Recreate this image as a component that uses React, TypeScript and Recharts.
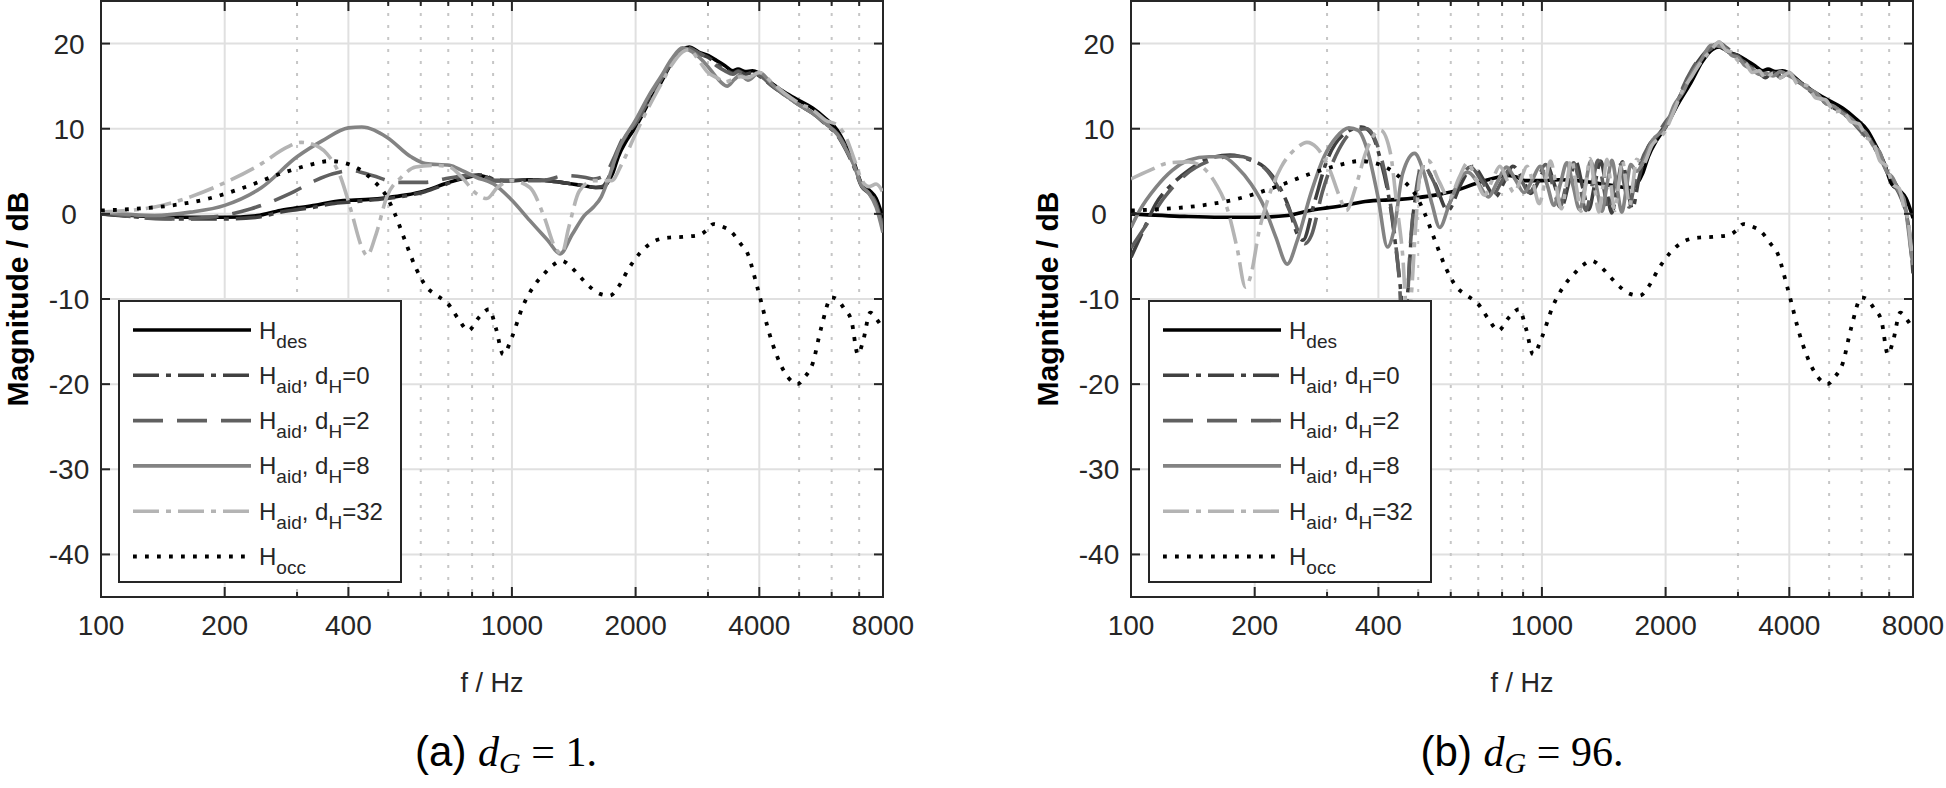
import React from "react";
import { LineChart, Line, XAxis, YAxis, CartesianGrid, ReferenceArea } from "recharts";

type Pt = [number, number];

// axes
const majorFreqs = [100, 200, 400, 1000, 2000, 4000, 8000];
const minorFreqs = [300, 500, 600, 700, 800, 900, 3000, 5000, 6000, 7000];
const gridFreqs = [200, 400, 1000, 2000, 4000];
const dbTicks = [-40, -30, -20, -10, 0, 10, 20];

// shared curves (same in both panels)
const hDes: Pt[] = [
  [100, 0], [135, -0.3], [165, -0.4], [200, -0.4], [240, -0.2], [273, 0.4], [300, 0.7], [332, 1.0],
  [365, 1.4], [406, 1.6], [450, 1.7], [496, 1.9], [550, 2.2], [614, 2.7], [684, 3.5], [767, 4.2],
  [830, 4.5], [870, 4.3], [910, 3.9], [1000, 3.9], [1100, 4.0], [1222, 3.9], [1320, 3.7], [1403, 3.5],
  [1500, 3.3], [1600, 3.1], [1660, 3.1], [1700, 3.5], [1760, 4.8], [1815, 6.7], [1900, 8.6], [2000, 10.2],
  [2150, 13.0], [2310, 15.5], [2450, 17.8], [2600, 19.3], [2700, 19.6], [2850, 19.0], [3000, 18.6],
  [3150, 18.0], [3300, 17.4], [3450, 16.8], [3550, 17.0], [3700, 16.7], [3850, 16.8], [4000, 16.5],
  [4300, 15.3], [4600, 14.3], [5000, 13.3], [5400, 12.4], [5800, 11.2], [6200, 9.8], [6500, 8.0],
  [6800, 6.0], [7100, 3.5], [7400, 2.8], [7700, 1.8], [8000, -0.5],
];

const hOcc: Pt[] = [
  [100, 0.4], [122, 0.6], [149, 1.0], [183, 1.8], [223, 3.1], [273, 4.7], [319, 5.7], [360, 6.2],
  [390, 6.0], [423, 5.3], [460, 3.9], [496, 2.0], [517, 0.2], [549, -3.1], [583, -6.3], [620, -8.6],
  [658, -9.6], [700, -10.6], [742, -12.4], [784, -13.7], [830, -12.2], [880, -11.2], [915, -13.5],
  [952, -16.5], [1000, -14.5], [1060, -11.0], [1130, -8.5], [1200, -7.0], [1260, -6.0], [1320, -5.5],
  [1390, -6.2], [1460, -7.3], [1550, -8.6], [1640, -9.4], [1730, -9.6], [1820, -8.5], [1920, -6.5],
  [2050, -4.6], [2220, -3.2], [2400, -2.8], [2600, -2.7], [2850, -2.5], [3000, -1.8], [3090, -1.2],
  [3250, -1.5], [3400, -2.0], [3600, -3.5], [3750, -4.7], [3900, -7.5], [4050, -10.5], [4200, -13.5],
  [4400, -16.5], [4700, -19.2], [4950, -20.0], [5150, -19.2], [5400, -17.5], [5650, -13.5],
  [6000, -9.8], [6200, -10.1], [6450, -11.2], [6700, -12.5], [6950, -16.5], [7150, -15.0],
  [7450, -11.6], [7700, -12.3], [8000, -13.5],
];

// panel (a), d_G = 1
const aidG1d0: Pt[] = [
  [100, 0], [135, -0.5], [165, -0.6], [200, -0.6], [240, -0.4], [273, 0.2], [300, 0.5], [332, 0.8],
  [365, 1.2], [406, 1.4], [450, 1.6], [496, 1.8], [550, 2.1], [614, 2.6], [684, 3.4], [767, 4.3],
  [830, 4.6], [870, 4.4], [910, 4.0], [1000, 3.9], [1100, 4.0], [1222, 3.9], [1320, 3.7], [1403, 3.5],
  [1500, 3.3], [1600, 3.1], [1660, 3.2], [1700, 3.8], [1760, 5.5], [1815, 7.5], [1900, 9.2],
  [2000, 10.8], [2150, 13.5], [2310, 16.0], [2450, 18.0], [2600, 19.3], [2700, 19.5], [2850, 18.8],
  [3000, 18.4], [3150, 17.6], [3300, 17.0], [3450, 16.5], [3550, 16.8], [3700, 16.4], [3850, 16.6],
  [4000, 16.2], [4300, 15.0], [4600, 14.0], [5000, 12.8], [5400, 11.8], [5800, 10.5], [6200, 9.2],
  [6500, 7.5], [6800, 5.5], [7100, 3.2], [7400, 2.4], [7700, 1.0], [8000, -1.5],
];

const aidG1d2: Pt[] = [
  [100, 0.2], [143, -0.6], [183, -0.4], [232, 0.6], [289, 2.4], [332, 3.9], [367, 4.7], [406, 5.1],
  [457, 4.5], [526, 3.7], [614, 3.7], [684, 4.1], [767, 4.5], [830, 4.7], [903, 3.9], [1000, 3.9],
  [1177, 3.9], [1352, 4.5], [1500, 4.3], [1580, 4.1], [1650, 4.3], [1712, 5.1], [1780, 6.8],
  [1850, 8.6], [2000, 10.6], [2150, 13.3], [2310, 15.8], [2450, 17.8], [2600, 19.2], [2700, 19.4],
  [2850, 18.9], [3000, 18.3], [3150, 17.4], [3300, 16.8], [3450, 16.4], [3550, 16.7], [3700, 16.3],
  [3850, 16.6], [4000, 16.3], [4300, 15.0], [4600, 14.0], [5000, 12.8], [5400, 11.8], [5800, 10.6],
  [6200, 9.4], [6500, 7.8], [6800, 5.8], [7100, 3.4], [7400, 2.5], [7700, 1.2], [8000, -1.8],
];

const aidG1d8: Pt[] = [
  [100, 0.2], [135, -0.2], [165, 0.2], [200, 1.0], [246, 3.1], [300, 6.7], [346, 8.6], [400, 10.1],
  [431, 10.2], [496, 9.0], [568, 6.7], [617, 5.9], [705, 5.7], [755, 5.1], [818, 4.3], [903, 3.5],
  [1000, 1.6], [1106, -0.8], [1222, -3.1], [1310, -4.7], [1403, -2.4], [1500, -0.2], [1580, 0.8],
  [1650, 2.0], [1712, 3.9], [1815, 7.5], [2000, 11.0], [2150, 13.8], [2310, 16.2], [2450, 18.2],
  [2600, 19.5], [2750, 19.0], [3000, 17.3], [3150, 16.0], [3340, 15.0], [3480, 15.8], [3600, 16.3],
  [3750, 15.7], [4000, 16.6], [4300, 15.2], [4600, 14.0], [5000, 12.8], [5400, 11.8], [5800, 10.6],
  [6200, 9.3], [6500, 7.6], [6800, 5.7], [7100, 3.3], [7400, 2.4], [7700, 0.8], [8000, -2.2],
];

const aidG1d32: Pt[] = [
  [100, 0.2], [135, 0.8], [165, 2.0], [201, 3.7], [246, 5.9], [283, 7.8], [307, 8.4], [326, 8.2],
  [354, 7.1], [383, 4.3], [406, 0.4], [431, -3.9], [444, -4.9], [467, -2.4], [496, 2.0], [538, 4.3],
  [583, 5.5], [643, 5.7], [705, 5.5], [755, 4.3], [818, 2.4], [869, 1.8], [922, 3.1], [1000, 3.9],
  [1106, 3.1], [1199, -0.4], [1272, -3.9], [1322, -4.7], [1375, -1.6], [1460, 2.7], [1580, 3.9],
  [1747, 3.9], [1853, 5.9], [2000, 9.4], [2150, 12.5], [2310, 15.3], [2450, 17.5], [2600, 19.0],
  [2700, 19.3], [2850, 18.0], [3000, 16.6], [3150, 16.0], [3300, 15.5], [3450, 15.8], [3600, 16.1],
  [3750, 16.0], [4000, 16.6], [4300, 15.4], [4600, 14.2], [5000, 13.0], [5400, 12.2], [5800, 11.0],
  [6200, 10.4], [6500, 9.0], [6800, 6.5], [7100, 4.0], [7400, 3.2], [7700, 3.5], [8000, 2.5],
];

// panel (b), d_G = 96
const aidG96d0: Pt[] = [
  [100, -5.1], [107, -2.0], [115, 1.2], [126, 3.5], [138, 5.1], [155, 6.5], [174, 6.9], [196, 6.3],
  [211, 5.5], [225, 3.9], [242, 0.8], [254, -2.4], [262, -3.1], [279, 1.2], [300, 6.3], [327, 9.2],
  [364, 10.2], [385, 9.4], [405, 6.3], [428, 0.8], [443, -4.7], [454, -9.4], [462, -14], [472, -9],
  [482, -2], [500, 3.5], [515, 5.5], [550, 3.5], [590, 0.4], [635, 3.5], [680, 5.6], [725, 3.8],
  [770, 2.0], [810, 3.8], [850, 5.6], [895, 4.2], [940, 2.4], [985, 4.0], [1030, 5.7], [1075, 3.3],
  [1120, 1.0], [1165, 3.8], [1210, 6.1], [1255, 3.2], [1300, 0.5], [1345, 3.5], [1390, 6.2],
  [1435, 3.0], [1480, 0.1], [1525, 3.2], [1570, 6.1], [1615, 3.2], [1660, 0.6], [1720, 4.0],
  [1800, 7.5], [1900, 9.0], [2000, 10.5], [2100, 12.5], [2200, 14.5], [2320, 16.8], [2450, 18.5],
  [2580, 19.6], [2700, 20.0], [2800, 19.3], [2900, 18.8], [3000, 18.6], [3120, 17.6], [3250, 17.2],
  [3380, 16.6], [3500, 16.0], [3650, 16.6], [3800, 16.3], [4000, 16.4], [4200, 15.5], [4400, 15.0],
  [4650, 14.0], [4900, 13.0], [5150, 12.4], [5400, 12.0], [5650, 11.2], [5900, 10.4], [6150, 9.4],
  [6400, 8.2], [6650, 7.0], [6900, 5.2], [7150, 4.0], [7400, 2.8], [7600, 1.5], [7800, -1.5],
  [7900, -3.5], [8000, -7.0],
];

const aidG96d2: Pt[] = [
  [100, -4.0], [110, -1.0], [120, 1.8], [135, 4.5], [155, 6.2], [180, 6.8], [200, 6.2], [215, 5.0],
  [230, 2.8], [248, -0.5], [265, -3.5], [275, -2.5], [292, 2.5], [320, 7.5], [350, 9.8], [375, 10.0],
  [398, 8.0], [420, 3.5], [438, -2.5], [450, -8], [458, -14], [468, -12], [478, -4], [495, 3.0],
  [512, 5.8], [545, 3.8], [582, 0.6], [625, 3.6], [670, 5.5], [715, 3.8], [758, 2.2], [800, 3.9],
  [845, 5.5], [888, 4.1], [930, 2.5], [975, 4.0], [1020, 5.8], [1062, 3.4], [1105, 0.8], [1150, 3.7],
  [1195, 6.0], [1238, 3.2], [1280, 0.4], [1325, 3.4], [1370, 6.3], [1412, 3.2], [1455, 0.2],
  [1500, 3.3], [1545, 6.0], [1588, 3.3], [1630, 0.8], [1680, 3.5], [1740, 6.0], [1820, 8.0],
  [1900, 9.2], [2000, 10.8], [2100, 12.2], [2200, 14.8], [2320, 17.0], [2450, 18.6], [2580, 19.4],
  [2700, 20.1], [2800, 19.6], [2900, 19.0], [3000, 18.2], [3120, 17.8], [3250, 17.0], [3380, 16.4],
  [3500, 16.2], [3650, 16.8], [3800, 16.0], [4000, 16.6], [4200, 15.3], [4400, 14.8], [4650, 13.8],
  [4900, 13.2], [5150, 12.3], [5400, 11.8], [5650, 11.0], [5900, 10.0], [6150, 9.0], [6400, 8.0],
  [6650, 6.6], [6900, 5.0], [7150, 3.6], [7400, 2.4], [7600, 1.0], [7800, -1.0], [7900, -4.0],
  [8000, -6.5],
];

const aidG96d8: Pt[] = [
  [100, -1.6], [105, 0.4], [115, 3.1], [126, 5.1], [138, 6.3], [155, 6.7], [167, 6.7], [181, 5.5],
  [196, 3.5], [211, 0.8], [225, -2.7], [240, -5.9], [254, -3.1], [274, 2.4], [295, 6.7], [316, 9.0],
  [339, 10.1], [357, 9.8], [378, 7.1], [399, 2.0], [421, -3.9], [436, -2.0], [458, 4.7], [490, 7.1],
  [514, 5.1], [540, 1.2], [564, -1.6], [596, 1.2], [636, 4.3], [660, 4.9], [700, 3.6], [740, 2.0],
  [780, 3.8], [820, 5.5], [862, 4.0], [905, 2.5], [948, 4.0], [990, 5.6], [1030, 3.4], [1070, 1.0],
  [1110, 3.6], [1150, 6.0], [1192, 3.2], [1235, 0.5], [1275, 3.3], [1315, 6.2], [1358, 3.2],
  [1400, 0.3], [1440, 3.4], [1480, 6.3], [1522, 3.2], [1565, 0.2], [1605, 3.0], [1645, 5.8],
  [1700, 5.0], [1770, 6.2], [1850, 8.5], [2000, 10.2], [2100, 12.8], [2200, 14.2], [2320, 16.5],
  [2450, 18.2], [2580, 19.8], [2700, 19.7], [2800, 19.4], [2900, 18.6], [3000, 18.4], [3120, 17.4],
  [3250, 17.0], [3380, 16.4], [3500, 16.5], [3650, 16.2], [3800, 16.7], [4000, 16.2], [4200, 15.6],
  [4400, 14.8], [4650, 14.2], [4900, 13.0], [5150, 12.6], [5400, 11.8], [5650, 11.2], [5900, 10.2],
  [6150, 9.5], [6400, 8.0], [6650, 7.2], [6900, 5.0], [7150, 4.2], [7400, 2.6], [7600, 1.8],
  [7800, -2.0], [7900, -4.2], [8000, -6.0],
];

const aidG96d32: Pt[] = [
  [100, 4.1], [111, 5.1], [124, 6.0], [138, 6.1], [149, 5.5], [161, 3.5], [171, 0.8], [181, -3.9],
  [190, -8.6], [196, -7.1], [205, -2.0], [215, 1.6], [232, 5.5], [254, 7.8], [268, 8.4], [283, 7.8],
  [305, 5.1], [322, 2.0], [334, 0.4], [352, 3.1], [372, 7.1], [392, 9.4], [405, 9.8], [428, 7.1],
  [443, 1.2], [458, -4.7], [470, -12], [480, -10], [492, -2], [505, 4.5], [528, 6.3], [562, 3.8],
  [595, 1.8], [628, 4.2], [660, 6.0], [692, 4.0], [725, 2.2], [758, 4.0], [790, 5.6], [822, 4.0],
  [855, 2.5], [888, 4.0], [920, 5.6], [952, 3.6], [985, 1.2], [1018, 3.8], [1050, 6.2], [1082, 3.4],
  [1115, 0.6], [1148, 3.5], [1180, 6.4], [1212, 3.3], [1245, 0.3], [1278, 3.4], [1310, 6.5],
  [1342, 3.3], [1375, 0.2], [1408, 3.3], [1440, 6.4], [1472, 3.4], [1505, 0.4], [1538, 3.4],
  [1570, 6.3], [1602, 3.6], [1635, 1.0], [1668, 3.8], [1700, 6.4], [1760, 5.8], [1850, 8.0],
  [2000, 9.8], [2100, 12.2], [2200, 14.5], [2320, 16.2], [2450, 18.0], [2580, 19.2], [2700, 20.2],
  [2800, 19.2], [2900, 19.0], [3000, 18.0], [3120, 17.8], [3250, 16.6], [3380, 16.8], [3500, 15.9],
  [3650, 16.5], [3800, 16.0], [4000, 16.6], [4200, 15.2], [4400, 15.1], [4650, 13.6], [4900, 13.4],
  [5150, 12.0], [5400, 12.1], [5650, 10.8], [5900, 10.6], [6150, 9.0], [6400, 8.4], [6650, 6.2],
  [6900, 5.6], [7150, 3.4], [7400, 3.0], [7600, 0.8], [7800, -1.0], [7900, -3.5], [8000, -5.0],
];

const INK = "#262626";
const SANS = "'Liberation Sans', Arial, Helvetica, sans-serif";
const SERIF = "'Liberation Serif', 'Times New Roman', serif";
const PLOT_W = 782;
const PLOT_H = 596;

const STYLE: Record<string, { stroke: string; dash?: string; width: number }> = {
  des: { stroke: "#000000", width: 3.6 },
  d0: { stroke: "#404040", dash: "26 7 5 7", width: 3.6 },
  d2: { stroke: "#606060", dash: "30 14", width: 3.6 },
  d8: { stroke: "#838383", width: 3.6 },
  d32: { stroke: "#b4b4b4", dash: "26 7 5 7", width: 3.6 },
  occ: { stroke: "#000000", dash: "3.8 8.2", width: 3.8 },
};

const LEGEND: { key: string; parts: [string, boolean][] }[] = [
  { key: "des", parts: [["H", false], ["des", true]] },
  { key: "d0", parts: [["H", false], ["aid", true], [", d", false], ["H", true], ["=0", false]] },
  { key: "d2", parts: [["H", false], ["aid", true], [", d", false], ["H", true], ["=2", false]] },
  { key: "d8", parts: [["H", false], ["aid", true], [", d", false], ["H", true], ["=8", false]] },
  { key: "d32", parts: [["H", false], ["aid", true], [", d", false], ["H", true], ["=32", false]] },
  { key: "occ", parts: [["H", false], ["occ", true]] },
];

const toRows = (pts: Pt[]) => pts.map(([f, db]) => ({ f, db }));

function FreqTick({ x, y, payload }: any) {
  const v = payload.value as number;
  const major = majorFreqs.includes(v);
  const len = major ? 10 : 5;
  return (
    <g>
      <line x1={x} x2={x} y1={y} y2={y - len} stroke={INK} strokeWidth={2} />
      <line x1={x} x2={x} y1={y - PLOT_H} y2={y - PLOT_H + len} stroke={INK} strokeWidth={2} />
      {major && (
        <text x={x} y={y + 38} textAnchor="middle" fontSize={28} fill={INK} fontFamily={SANS}>
          {v}
        </text>
      )}
    </g>
  );
}

function DbTick({ x, y, payload }: any) {
  return (
    <g>
      <line x1={x} x2={x + 9} y1={y} y2={y} stroke={INK} strokeWidth={2} />
      <line x1={x + PLOT_W - 9} x2={x + PLOT_W} y1={y} y2={y} stroke={INK} strokeWidth={2} />
      <text x={x - 32} y={y + 10} textAnchor="middle" fontSize={28} fill={INK} fontFamily={SANS}>
        {payload.value}
      </text>
    </g>
  );
}

function LegendBox() {
  return (
    <svg width={284} height={283} style={{ position: "absolute", left: 118, top: 300 }}>
      <rect x={1} y={1} width={282} height={281} fill="#ffffff" stroke={INK} strokeWidth={2} />
      {LEGEND.map((row, i) => {
        const st = STYLE[row.key];
        const cy = 30 + i * 45.3;
        return (
          <g key={row.key}>
            <line x1={15} x2={133} y1={cy} y2={cy} stroke={st.stroke} strokeWidth={st.width} strokeDasharray={st.dash} />
            <text x={141} y={cy + 8.5} fontSize={24} fill={INK} fontFamily={SANS}>
              {row.parts.map(([t, sub], j) => {
                const prevSub = j > 0 && row.parts[j - 1][1];
                const dy = sub && !prevSub ? 9 : !sub && prevSub ? -9 : 0;
                return (
                  <tspan key={j} dy={dy} fontSize={sub ? 19 : 24}>
                    {t}
                  </tspan>
                );
              })}
            </text>
          </g>
        );
      })}
    </svg>
  );
}

function Panel({ left, curves, tag, value, captionX }: { left: number; curves: Record<string, Pt[]>; tag: string; value: string; captionX: number }) {
  return (
    <div style={{ position: "absolute", left, top: 0, width: 960, height: 788 }}>
      <LineChart width={960} height={788} margin={{ top: 1, right: 77, bottom: 151, left: 41 }}>
        <CartesianGrid verticalValues={gridFreqs} horizontalValues={dbTicks} stroke="#e0e0e0" strokeWidth={2} />
        <CartesianGrid horizontal={false} verticalValues={minorFreqs} stroke="#c6c6c6" strokeWidth={2} strokeDasharray="3 9" />
        <XAxis
          type="number"
          dataKey="f"
          scale="log"
          domain={[100, 8000]}
          allowDataOverflow
          ticks={[...majorFreqs, ...minorFreqs]}
          interval={0}
          tick={<FreqTick />}
          tickLine={false}
          tickSize={0}
          tickMargin={0}
          axisLine={false}
          height={40}
        />
        <YAxis
          type="number"
          domain={[-45, 25]}
          allowDataOverflow
          ticks={dbTicks}
          interval={0}
          tick={<DbTick />}
          tickLine={false}
          tickSize={0}
          tickMargin={0}
          axisLine={false}
          width={60}
        />
        {Object.keys(STYLE).map((k) => (
          <Line
            key={k}
            data={toRows(curves[k])}
            dataKey="db"
            type="monotone"
            stroke={STYLE[k].stroke}
            strokeWidth={STYLE[k].width}
            strokeDasharray={STYLE[k].dash}
            dot={false}
            activeDot={false}
            isAnimationActive={false}
          />
        ))}
        <ReferenceArea x1={100} x2={8000} y1={-45} y2={25} fill="none" stroke={INK} strokeWidth={2} />
      </LineChart>
      <LegendBox />
      <svg width={960} height={788} style={{ position: "absolute", left: 0, top: 0, pointerEvents: "none" }}>
        <text transform="translate(28 299) rotate(-90)" textAnchor="middle" fontSize={30} fontWeight="bold" fill="#000" fontFamily={SANS}>
          Magnitude / dB
        </text>
        <text x={492} y={692} textAnchor="middle" fontSize={27} fill={INK} fontFamily={SANS}>
          f / Hz
        </text>
        <text x={captionX} y={766} textAnchor="middle" fontSize={42} fill="#000">
          <tspan fontFamily={SANS}>{tag} </tspan>
          <tspan fontFamily={SERIF} fontStyle="italic">d</tspan>
          <tspan fontFamily={SERIF} fontStyle="italic" fontSize={30} dy={7}>G</tspan>
          <tspan fontFamily={SERIF} dy={-7}>{" = " + value}</tspan>
        </text>
      </svg>
    </div>
  );
}

export default function App() {
  return (
    <div style={{ position: "absolute", left: 0, top: 0, width: 1946, height: 788, background: "#ffffff" }}>
      <Panel
        left={0}
        curves={{ des: hDes, d0: aidG1d0, d2: aidG1d2, d8: aidG1d8, d32: aidG1d32, occ: hOcc }}
        tag="(a)"
        value="1."
        captionX={506}
      />
      <Panel
        left={1030}
        curves={{ des: hDes, d0: aidG96d0, d2: aidG96d2, d8: aidG96d8, d32: aidG96d32, occ: hOcc }}
        tag="(b)"
        value="96."
        captionX={492}
      />
    </div>
  );
}
